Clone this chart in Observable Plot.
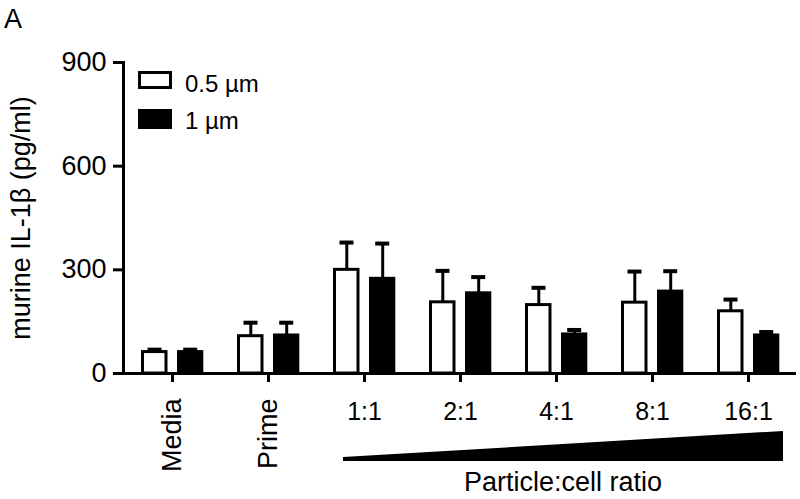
<!DOCTYPE html>
<html>
<head>
<meta charset="utf-8">
<script src="https://cdn.jsdelivr.net/npm/d3@7"></script>
<script src="https://cdn.jsdelivr.net/npm/@observablehq/plot@0.6"></script>
<style>
  html, body { margin: 0; padding: 0; background: white; }
  #wrap { position: relative; width: 800px; height: 499px; }
</style>
</head>
<body>
<div id="wrap"></div>
<script>
// ---- data ----
const groups = ["Media", "Prime", "1:1", "2:1", "4:1", "8:1", "16:1"];
const mean05 = [62, 108, 300, 206, 198, 205, 180];
const err05  = [7, 39, 79, 91, 50, 90, 34];
const mean1  = [62, 110, 274, 232, 113, 237, 110];
const err1   = [7, 37, 102, 47, 13, 59, 10];
const yTicks = [0, 300, 600, 900];
const seriesNames = ["0.5 µm", "1 µm"];
const seriesFills = ["white", "black"];
const rotatedLabels = groups.slice(0, 2);
const ratioLabels = groups.slice(2);
const yLabel = "murine IL-1β (pg/ml)";
const xTitle = "Particle:cell ratio";
const panelLetter = "A";

const rows = groups.map((g, i) => ({
  group: g, m05: mean05[i], t05: mean05[i] + err05[i], m1: mean1[i], t1: mean1[i] + err1[i]
}));

const font = "'Liberation Sans', Arial, Helvetica, sans-serif";

const chart = Plot.plot({
  width: 800, height: 499,
  marginTop: 62, marginBottom: 126, marginLeft: 123, marginRight: 4,
  style: { fontFamily: font, fontSize: "27px", color: "black", background: "white" },
  x: { domain: groups, padding: 0 },
  y: { domain: [0, 900] },
  marks: [
    Plot.ruleX(rows, { x: "group", y1: "m05", y2: "t05", dx: -17.7, strokeWidth: 3 }),
    Plot.tickY(rows, { x: "group", y: "t05", insetLeft: 23.5, insetRight: 58.5, strokeWidth: 4 }),
    Plot.ruleX(rows, { x: "group", y1: "m1", y2: "t1", dx: 18.2, strokeWidth: 3 }),
    Plot.tickY(rows, { x: "group", y: "t1", insetLeft: 59.2, insetRight: 22.8, strokeWidth: 4 }),
    Plot.barY(rows, { x: "group", y: "m05", fill: seriesFills[0], stroke: "black", strokeWidth: 3, insetLeft: 18.5, insetRight: 54 }),
    Plot.barY(rows, { x: "group", y: "m1", fill: seriesFills[1], stroke: "black", strokeWidth: 3, insetLeft: 54.5, insetRight: 18.2 }),
    Plot.ruleY([0], { strokeWidth: 3 }),
    Plot.frame({ anchor: "left", strokeWidth: 3 }),
    Plot.axisY({ ticks: yTicks, tickSize: 10, tickPadding: 7, strokeWidth: 3, label: null }),
    Plot.axisX({ tickSize: 9, tickFormat: () => "", strokeWidth: 3, label: null }),
    Plot.text(rotatedLabels, { x: d => d, text: d => d, frameAnchor: "bottom", dy: 25, rotate: -90, textAnchor: "end", lineAnchor: "middle", fontSize: 27 }),
    Plot.text(ratioLabels, { x: d => d, text: d => d, frameAnchor: "bottom", dy: 38, lineAnchor: "middle", fontSize: 25 }),
    Plot.text([yLabel], { text: d => d, frameAnchor: "left", textAnchor: "middle", rotate: -90, dx: -102, lineAnchor: "middle", fontSize: 27 })
  ]
});

document.getElementById("wrap").appendChild(chart);

// ---- decorations: wedge, x title, legend, panel letter ----
const svg = d3.select(chart);
const xs = chart.scale("x"), ys = chart.scale("y");
const bw = xs.bandwidth;
const cx = g => xs.apply(g) + bw / 2;
const y0 = ys.apply(0);
const wl = cx(ratioLabels[0]) - 21, wr = cx(ratioLabels[ratioLabels.length - 1]) + 35;
svg.append("path")
  .attr("d", `M${wl},${y0 + 84} L${wr},${y0 + 58} L${wr},${y0 + 88} L${wl},${y0 + 88} Z`)
  .attr("fill", "black");
svg.append("text")
  .attr("x", (wl + wr) / 2).attr("y", y0 + 118)
  .attr("text-anchor", "middle").attr("font-size", 27).attr("font-family", font)
  .text(xTitle);

const leg = svg.append("g");
seriesNames.forEach((name, i) => {
  const top = 72.5 + i * 38;
  leg.append("rect").attr("x", 139.5).attr("y", top).attr("width", 31).attr("height", 15 + i * 2)
    .attr("fill", seriesFills[i]).attr("stroke", "black").attr("stroke-width", 3);
  leg.append("text").attr("x", 185).attr("y", 92 + i * 36.5)
    .attr("text-anchor", "start").attr("font-size", 24).attr("font-family", font).text(name);
});

svg.append("text").attr("x", 4).attr("y", 28).attr("text-anchor", "start")
  .attr("font-size", 27).attr("font-family", font).text(panelLetter);
</script>
</body>
</html>
